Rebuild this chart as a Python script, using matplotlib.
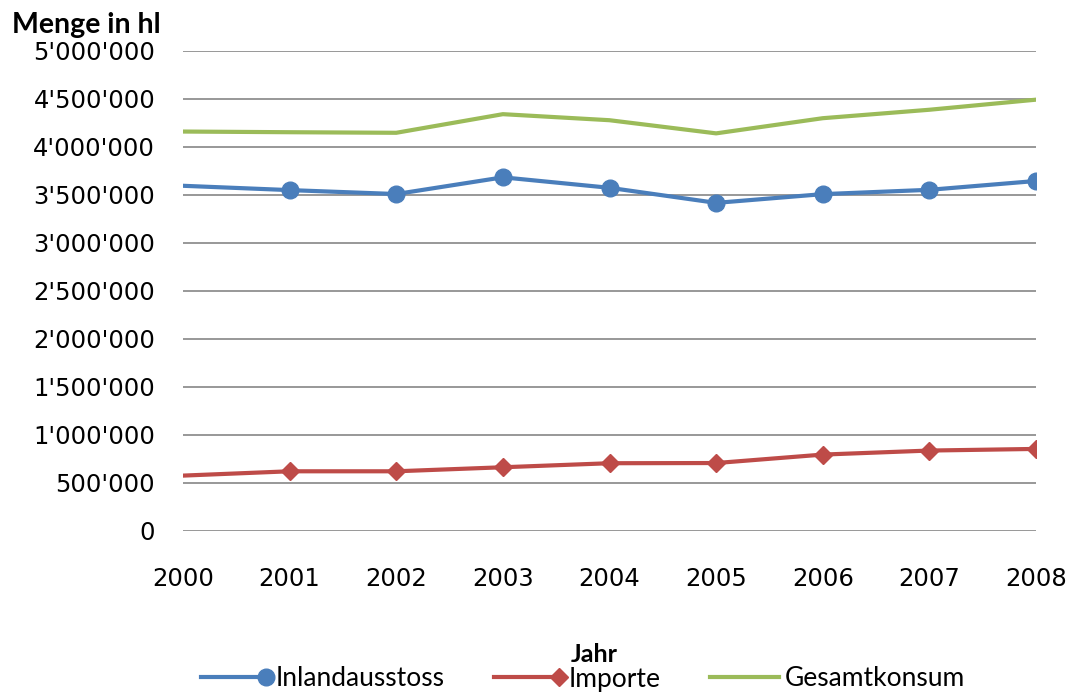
import matplotlib
matplotlib.use("Agg")
import matplotlib.pyplot as plt
from matplotlib.legend_handler import HandlerBase
from matplotlib.lines import Line2D
from matplotlib.ticker import FuncFormatter
import numpy as np

years = [2000, 2001, 2002, 2003, 2004, 2005, 2006, 2007, 2008]
inlandausstoss = [3596000, 3551000, 3510000, 3684000, 3575000, 3418000, 3509000, 3554000, 3646000]
importe = [577000, 622000, 622000, 664000, 706000, 708000, 796000, 838000, 855000]
gesamtkonsum = [4161000, 4154000, 4148000, 4342000, 4279000, 4142000, 4300000, 4388000, 4493000]
series_labels = ["Inlandausstoss", "Importe", "Gesamtkonsum"]

BLUE = "#4a7ebb"
RED = "#be4b48"
GREEN = "#9bbb59"
GRID = "#868686"

TEXT_FONT = ["Lato", "DejaVu Sans"]


class MarkerRightHandler(HandlerBase):
    # excel puts the legend marker at the right end of the sample line
    def create_artists(self, legend, orig_handle, xdescent, ydescent, width, height, fontsize, trans):
        y = (height - ydescent) / 2
        line = Line2D([-xdescent, -xdescent + width], [y, y], color=orig_handle.get_color(),
                      lw=orig_handle.get_linewidth(), transform=trans)
        arts = [line]
        if orig_handle.get_marker() not in (None, "None", "", " "):
            mk = Line2D([-xdescent + width - 3], [y], ls="none", marker=orig_handle.get_marker(),
                        markersize=orig_handle.get_markersize(), color=orig_handle.get_color(),
                        transform=trans)
            arts.append(mk)
        return arts


def fmt_apostrophe(v, pos):
    return f"{int(round(v)):,}".replace(",", "'")


fig = plt.figure(figsize=(10.74, 6.94), dpi=100)
ax = fig.add_axes([183 / 1074, 1 - 531 / 694, (1036 - 183) / 1074, (531 - 51) / 694])

l1, = ax.plot(years, inlandausstoss, color=BLUE, lw=3, marker="o", markersize=12,
              markevery=slice(1, None), label=series_labels[0], zorder=3)
l2, = ax.plot(years, importe, color=RED, lw=3, marker="D", markersize=9,
              markevery=slice(1, None), label=series_labels[1], zorder=3)
l3, = ax.plot(years, gesamtkonsum, color=GREEN, lw=3, label=series_labels[2], zorder=3)

ax.set_xlim(2000, 2008)
ax.set_ylim(0, 5000000)
ax.set_xticks(years)
ax.set_yticks(np.arange(0, 5000001, 500000))
ax.yaxis.set_major_formatter(FuncFormatter(fmt_apostrophe))
ax.grid(axis="y", color=GRID, lw=1.2)
ax.set_axisbelow(True)
for s in ax.spines.values():
    s.set_visible(False)
ax.tick_params(axis="both", length=0, labelsize=17.5)
ax.tick_params(axis="y", pad=20)
ax.tick_params(axis="x", pad=26)

fig.text(12 / 1074, 1 - 25 / 694, "Menge in hl", fontsize=20.5, fontweight="bold",
         family=TEXT_FONT, va="center", ha="left")
fig.text(594 / 1074, 1 - 654 / 694, "Jahr", fontsize=18, fontweight="bold",
         family=TEXT_FONT, va="center", ha="center")

handler = MarkerRightHandler()
leg = fig.legend(handles=[l1, l2, l3], loc="center", bbox_to_anchor=(583 / 1074, 1 - 679 / 694),
                 ncol=3, frameon=False, handlelength=2.6, handletextpad=0.2, columnspacing=1.9,
                 prop={"family": TEXT_FONT, "size": 19},
                 handler_map={l1: handler, l2: handler, l3: handler})

fig.savefig("out.png", dpi=100)
